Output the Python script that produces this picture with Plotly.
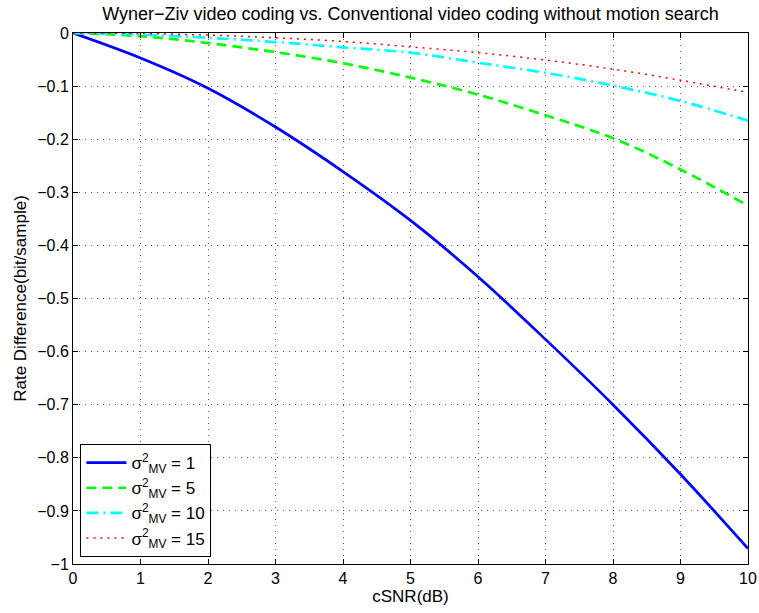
import plotly.graph_objects as go

csnr = [0, 1, 2, 3, 4, 5, 6, 7, 8, 9, 10]
mv1 = [0, -0.047, -0.104, -0.177, -0.261, -0.353, -0.459, -0.577, -0.70, -0.831, -0.971]
mv5 = [0, -0.006, -0.019, -0.036, -0.057, -0.084, -0.116, -0.155, -0.198, -0.257, -0.325]
mv10 = [0, -0.003, -0.009, -0.017, -0.027, -0.037, -0.056, -0.075, -0.099, -0.128, -0.165]
mv15 = [0, -0.001, -0.004, -0.009, -0.016, -0.026, -0.037, -0.051, -0.068, -0.089, -0.112]

x_ticks = [0, 1, 2, 3, 4, 5, 6, 7, 8, 9, 10]
y_ticks = [0, -0.1, -0.2, -0.3, -0.4, -0.5, -0.6, -0.7, -0.8, -0.9, -1]
y_ticktext = ["0", "\u22120.1", "\u22120.2", "\u22120.3", "\u22120.4", "\u22120.5",
              "\u22120.6", "\u22120.7", "\u22120.8", "\u22120.9", "\u22121"]

series = [
    (mv1, "σ<sup>2</sup><sub>MV</sub> = 1", "#0000ff", "solid", 2.7),
    (mv5, "σ<sup>2</sup><sub>MV</sub> = 5", "#00ff00", "10px,6px", 2.7),
    (mv10, "σ<sup>2</sup><sub>MV</sub> = 10", "#00ffff", "12px,5px,2px,5px", 2.7),
    (mv15, "σ<sup>2</sup><sub>MV</sub> = 15", "#ff0000", "2px,5px", 1.5),
]

fig = go.Figure()
for ys, name, color, dash, w in series:
    fig.add_trace(go.Scatter(
        x=csnr, y=ys, mode="lines", name=name,
        line=dict(color=color, dash=dash, width=w, shape="spline", smoothing=1.0),
    ))

fam = "Liberation Sans, Arial, Helvetica, sans-serif"

axis_common = dict(
    showgrid=True, gridcolor="#555555", griddash="1px,5px", gridwidth=1,
    ticks="inside", ticklen=5, tickcolor="black", mirror="allticks",
    showline=True, linecolor="black", linewidth=1, zeroline=False,
    automargin=False, tickfont=dict(family=fam, size=16, color="black"),
)

fig.update_layout(
    width=759, height=613,
    margin=dict(l=73, r=11, t=33, b=49, autoexpand=False),
    paper_bgcolor="white", plot_bgcolor="white",
    font=dict(family=fam, size=16, color="black"),
    title=dict(text="Wyner\u2212Ziv video coding vs. Conventional video coding without motion search",
               x=(73 + 748) / 2 / 759, xanchor="center", y=1 - 14 / 613, yanchor="middle",
               font=dict(family=fam, size=18, color="black")),
    showlegend=True,
    legend=dict(x=0.011, y=0.013, xanchor="left", yanchor="bottom",
                bgcolor="white", bordercolor="black", borderwidth=1,
                itemwidth=40,
                font=dict(family=fam, size=17, color="black"), tracegroupgap=0),
    xaxis=dict(range=[0, 10], tickvals=x_ticks, ticktext=[str(v) for v in x_ticks],
               title=dict(text="cSNR(dB)", standoff=0, font=dict(family=fam, size=17)),
               **axis_common),
    yaxis=dict(range=[-1, 0], tickvals=y_ticks, ticktext=y_ticktext,
               title=dict(text="Rate Difference(bit/sample)", standoff=6, font=dict(family=fam, size=17)),
               **axis_common),
)

fig.write_html("out.html", config={"displayModeBar": False},
               post_script="document.body.style.margin='0';document.body.style.padding='0';")
